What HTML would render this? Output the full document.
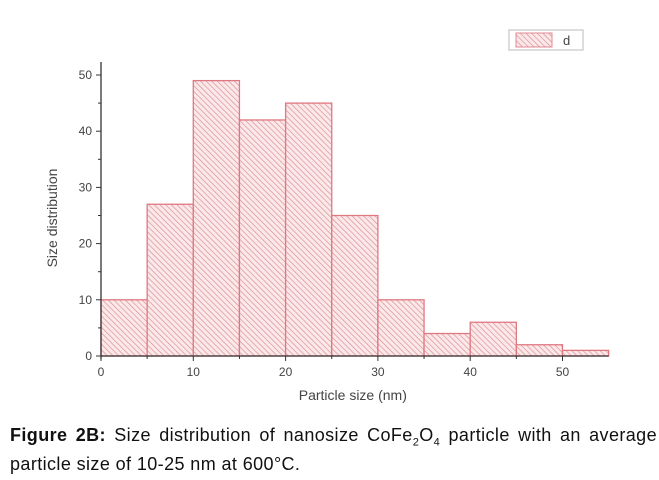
<!DOCTYPE html>
<html><head><meta charset="utf-8"><style>
body{margin:0;background:#fff;width:659px;height:480px;overflow:hidden;font-family:"Liberation Sans",sans-serif;}
#cap{position:absolute;left:10px;top:425px;width:647px;font-size:18px;letter-spacing:0.4px;line-height:21px;color:#111;}
#cap .l1{text-align:justify;text-align-last:justify;}
</style></head><body>
<svg id="chart" width="659" height="420" style="position:absolute;left:0;top:0">
<defs><pattern id="hatch" width="4" height="4" patternUnits="userSpaceOnUse" patternTransform="rotate(-45)"><rect width="4" height="4" fill="#fbe9ea"/><line x1="0" y1="0" x2="0" y2="4" stroke="#d98a90" stroke-width="1.3"/></pattern></defs>
<g id="bars"></g><g id="axes"></g>
<g>
<rect x="509" y="30" width="74" height="20" fill="#fff" stroke="#bbb"/>
<rect x="516" y="33" width="36" height="14" fill="url(#hatch)" stroke="#e08a90"/>
<text x="563" y="45" font-size="13" fill="#444">d</text></g>
</svg>
<div id="cap"><div class="l1"><b>Figure 2B:</b> Size distribution of nanosize CoFe<sub style="font-size:11px">2</sub>O<sub style="font-size:11px">4</sub> particle with an average</div><div>particle size of 10-25 nm at 600°C.</div></div>
<script>
const binStarts=[0,5,10,15,20,25,30,35,40,45,50];
const counts=[10,27,49,42,45,25,10,4,6,2,1];
const xTicks=[0,10,20,30,40,50];
const yTicks=[0,10,20,30,40,50];
const NS='http://www.w3.org/2000/svg';
const X=v=>101+v*9.23, Y=v=>356-v*5.62;
const bars=document.getElementById('bars'), axes=document.getElementById('axes');
function mk(t,a,p){const e=document.createElementNS(NS,t);for(const k in a)e.setAttribute(k,a[k]);p.appendChild(e);return e;}
binStarts.forEach((s,i)=>{
 const r=mk('rect',{x:X(s),y:Y(counts[i]),width:X(s+5)-X(s),height:Y(0)-Y(counts[i]),fill:'url(#hatch)',stroke:'#e07880','stroke-width':1.3},bars);
 
 
});
mk('line',{x1:X(0),y1:Y(0),x2:X(55),y2:Y(0),stroke:'#333','stroke-width':1.3},axes);
mk('line',{x1:X(0),y1:Y(0)+3,x2:X(0),y2:62,stroke:'#333','stroke-width':1.3},axes);
xTicks.forEach(v=>{mk('line',{x1:X(v),y1:Y(0),x2:X(v),y2:Y(0)+5,stroke:'#333'},axes);
 const t=mk('text',{x:X(v),y:Y(0)+20,'font-size':12,'text-anchor':'middle',fill:'#444'},axes);t.textContent=v;
 });
for(let v=5;v<55;v+=10)mk('line',{x1:X(v),y1:Y(0),x2:X(v),y2:Y(0)+3,stroke:'#333'},axes);
yTicks.forEach(v=>{mk('line',{x1:X(0)-5,y1:Y(v),x2:X(0),y2:Y(v),stroke:'#333'},axes);
 const t=mk('text',{x:X(0)-9,y:Y(v)+4,'font-size':12,'text-anchor':'end',fill:'#444'},axes);t.textContent=v;
 });
for(let v=5;v<55;v+=10)mk('line',{x1:X(0)-3,y1:Y(v),x2:X(0),y2:Y(v),stroke:'#333'},axes);
const xt=mk('text',{x:X(27.5)-2,y:400,'font-size':14,'text-anchor':'middle',fill:'#444'},axes);xt.textContent='Particle size (nm)';

const yt=mk('text',{x:0,y:0,'font-size':14,'text-anchor':'middle',fill:'#444',transform:'translate(57,218) rotate(-90)'},axes);yt.textContent='Size distribution';

</script>
</body></html>
